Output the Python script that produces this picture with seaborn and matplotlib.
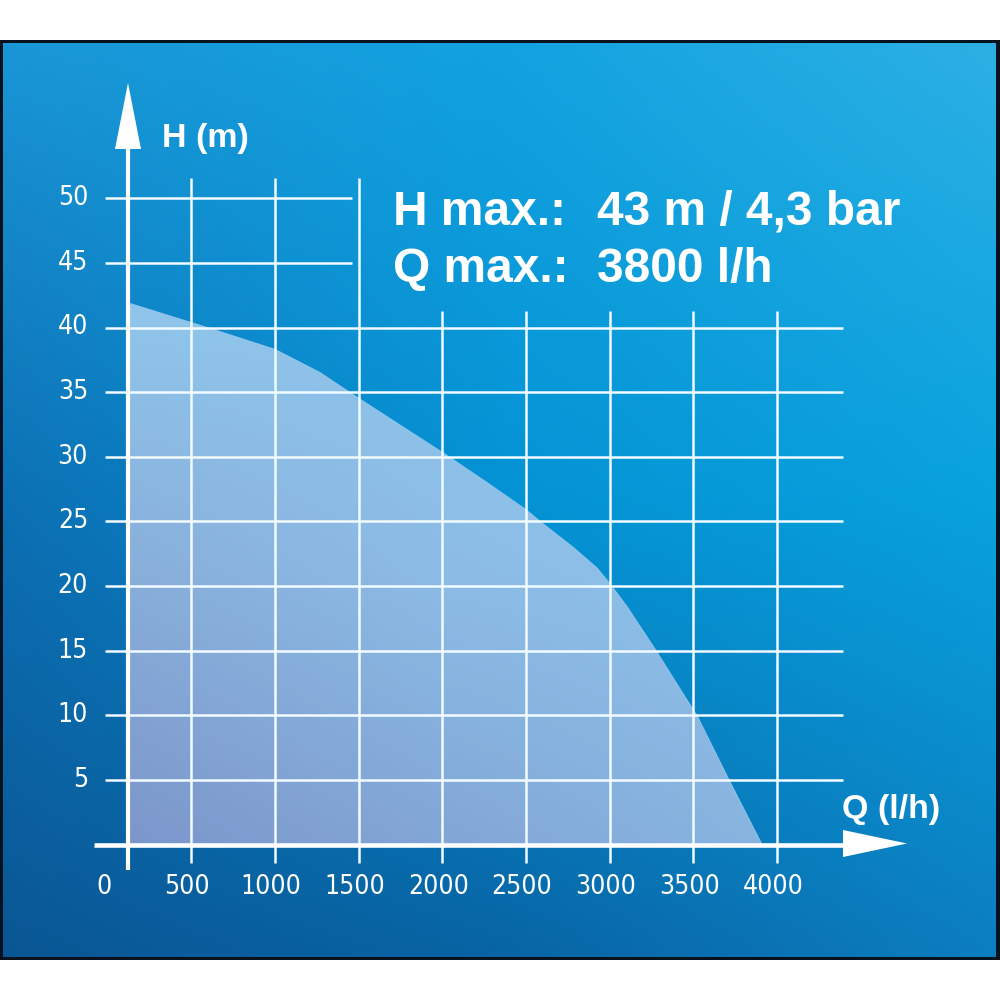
import numpy as np
import matplotlib
matplotlib.use("Agg")
import matplotlib.pyplot as plt
import seaborn as sns
from matplotlib import font_manager
from matplotlib.patches import Polygon, Rectangle

# ---------------- data ----------------
flow_lph = [121, 493, 594, 1000, 1270, 1490, 2016, 2267, 2500, 2584, 2781, 2924,
            3000, 3104, 3277, 3500, 3521, 3713, 3910]
head_m = [41.9, 40.4, 40.0, 38.3, 36.5, 34.6, 30.2, 28.0, 25.9, 25.0, 23.0, 21.4,
          20.2, 18.4, 15.0, 10.4, 10.0, 5.0, 0.0]
x_ticks = [0, 500, 1000, 1500, 2000, 2500, 3000, 3500, 4000]
x_tick_labels = ["0", "500", "1000", "1500", "2000", "2500", "3000", "3500", "4000"]
y_ticks = [5, 10, 15, 20, 25, 30, 35, 40, 45, 50]
y_tick_labels = ["5", "10", "15", "20", "25", "30", "35", "40", "45", "50"]
y_axis_label = "H (m)"
x_axis_label = "Q (l/h)"
info_keys = ["H max.:", "Q max.:"]
info_values = ["43 m / 4,3 bar", "3800 l/h"]

# ---------------- setup ----------------
sns.set_theme(style="white")
available = {f.name for f in font_manager.fontManager.ttflist}
if "Liberation Sans Narrow" in available:
    tick_font = dict(family=["Liberation Sans Narrow", "DejaVu Sans"])
else:
    tick_font = dict(family=["DejaVu Sans"], fontstretch="condensed")
bold_family = "Liberation Sans" if "Liberation Sans" in available else "DejaVu Sans"
plt.rcParams["font.family"] = [bold_family, "DejaVu Sans"]

fig = plt.figure(figsize=(10, 10), dpi=100, facecolor="white")
ax = fig.add_axes([0, 0, 1, 1])

# pixel <-> data helpers (layout only)
X0, XS = 107.7, 0.16733   # px at Q=0, px per l/h
Y0, YS = 844.7, 12.93     # px at H=0 (from top), px per m
def qx(px):
    return (px - X0) / XS
def hy(py):
    return (Y0 - py) / YS

ax.set_xlim(qx(0), qx(1000))
ax.set_ylim(hy(1000), hy(0))
ax.axis("off")

# ---------------- background ----------------
ax.add_patch(Rectangle((qx(0), hy(960)), qx(1000) - qx(0), hy(40) - hy(960),
                       facecolor="#06121e", edgecolor="none", zorder=0))

def grad3x3(grid, nx=400, ny=400):
    grid = np.array(grid, dtype=float) / 255.0  # rows top->bottom, cols left->right
    u = np.linspace(0, 2, nx)
    v = np.linspace(0, 2, ny)
    out = np.zeros((ny, nx, 3))
    for c in range(3):
        rows = np.array([np.interp(u, [0, 1, 2], grid[r, :, c]) for r in range(3)])
        for j in range(nx):
            out[:, j, c] = np.interp(v, [0, 1, 2], rows[:, j])
    return out

bg = grad3x3([
    [(26, 150, 214), (18, 162, 224), (44, 176, 228)],
    [(12, 112, 180), (4, 146, 212), (8, 162, 222)],
    [(10, 86, 148), (8, 100, 164), (12, 126, 192)],
])
ax.imshow(bg, extent=(qx(3), qx(996), hy(957), hy(43)), aspect="auto",
          interpolation="bilinear", zorder=1)

# ---------------- curve area ----------------
coll = ax.fill_between(flow_lph, head_m, 0, color=(142/255, 196/255, 234/255),
                       linewidth=0, alpha=0.0, zorder=2)
fill_img = grad3x3([
    [(144, 198, 236), (143, 198, 236), (143, 198, 236)],
    [(136, 174, 218), (140, 188, 230), (142, 194, 234)],
    [(124, 150, 203), (130, 166, 214), (136, 180, 224)],
])
im = ax.imshow(fill_img, extent=(qx(128), qx(765), hy(846), hy(300)), aspect="auto",
               interpolation="bilinear", zorder=2)
im.set_clip_path(coll.get_paths()[0], transform=ax.transData)
sns.lineplot(x=flow_lph, y=head_m, ax=ax, color=(143/255, 197/255, 235/255),
             linewidth=0.8, zorder=2.5, legend=False, sort=False)

ax.set_xlim(qx(0), qx(1000))
ax.set_ylim(hy(1000), hy(0))

# ---------------- grid ----------------
grid_color = "#f2fbff"
glw = 1.8
for t in x_ticks[1:]:
    top = hy(178) if t <= 1500 else hy(311)
    ax.vlines(t, hy(863), top, color=grid_color, lw=glw, zorder=3)
for h in y_ticks:
    right = qx(352) if h >= 45 else qx(843)
    ax.hlines(h, qx(105), right, color=grid_color, lw=glw, zorder=3)

# ---------------- axes with arrows ----------------
ax.vlines(qx(128), hy(870), hy(146), color="white", lw=3.0, zorder=4)
ax.add_patch(Polygon([(qx(128), hy(83)), (qx(115), hy(149)), (qx(141), hy(149))],
                     closed=True, facecolor="white", edgecolor="none", zorder=4))
ax.hlines(0, qx(94), qx(846), color="white", lw=3.3, zorder=4)
ax.add_patch(Polygon([(qx(907), hy(843.5)), (qx(843), hy(830)), (qx(843), hy(857))],
                     closed=True, facecolor="white", edgecolor="none", zorder=4))

# ---------------- tick labels ----------------
for t, lab in zip(y_ticks, y_tick_labels):
    ax.text(qx(88), t, lab, ha="right", va="center", color="white",
            fontsize=19, zorder=5, **tick_font)
for t, lab in zip(x_ticks, x_tick_labels):
    ax.text(t - 4 / XS, hy(887), lab, ha="center", va="center", color="white",
            fontsize=19, zorder=5, **tick_font)

# ---------------- axis labels ----------------
ax.text(qx(162), hy(147), y_axis_label, ha="left", va="baseline", color="white",
        fontsize=24.5, fontweight="bold", zorder=5)
ax.text(qx(842), hy(818), x_axis_label, ha="left", va="baseline", color="white",
        fontsize=24.5, fontweight="bold", zorder=5)

# ---------------- info text ----------------
for i, (k, v) in enumerate(zip(info_keys, info_values)):
    base = [225, 282][i]
    ax.text(qx(393), hy(base), k, ha="left", va="baseline", color="white",
            fontsize=34.5, fontweight="bold", zorder=5)
    ax.text(qx(597), hy(base), v, ha="left", va="baseline", color="white",
            fontsize=34.5, fontweight="bold", zorder=5)

fig.savefig("out.png", dpi=100, facecolor="white")
